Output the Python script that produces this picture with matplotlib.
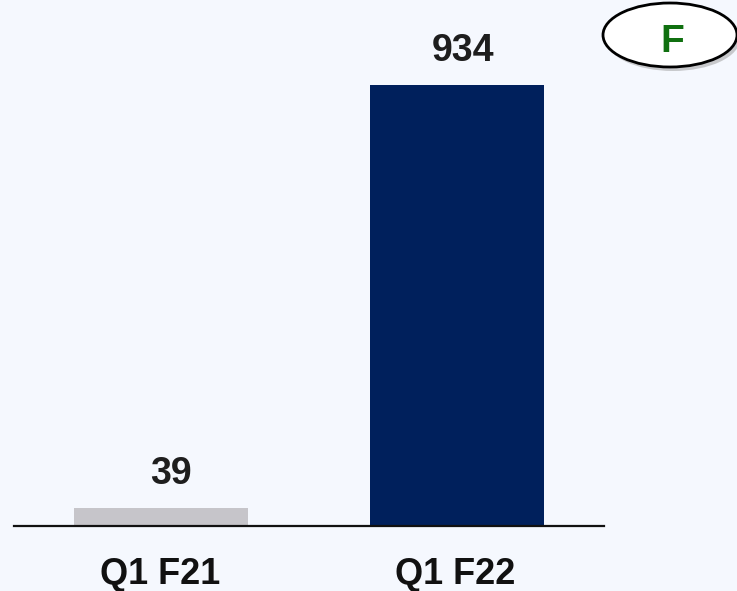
import matplotlib.pyplot as plt
from matplotlib.patches import Ellipse

plt.rcParams['font.family'] = ['Liberation Sans', 'DejaVu Sans']
plt.rcParams['font.weight'] = 'bold'

# data
quarters = ['Q1 F21', 'Q1 F22']
values = [39, 934]
bar_colors = ['#C6C5CA', '#00205C']
badge_text = 'F'

bg = '#F5F8FE'
W, H = 737, 591

fig = plt.figure(figsize=(W / 100, H / 100), dpi=100, facecolor=bg)
ax = fig.add_axes([14 / W, (H - 526) / H, 590 / W, 526 / H])
ax.set_facecolor(bg)
ax.patch.set_alpha(0)

x = list(range(len(quarters)))
bars = ax.bar(x, values, width=0.588, color=bar_colors, zorder=2)
ax.set_xlim(-0.497, 1.497)
ax.set_ylim(0, 1114)

for s in ['top', 'right', 'left']:
    ax.spines[s].set_visible(False)
ax.spines['bottom'].set_linewidth(1.6)
ax.spines['bottom'].set_color('#111111')
ax.spines['bottom'].set_zorder(3)
ax.set_xticks([])
ax.set_yticks([])

# value labels sit a little right of the bar centre in the original
shifts = [7, 4.5]
for xi, v, dx in zip(x, values, shifts):
    ax.annotate(str(v), (xi, v), xytext=(dx, 17), textcoords='offset points',
                ha='center', va='baseline', fontsize=27, fontweight='bold',
                color='#1E1E1E')

for xi, q in zip(x, quarters):
    ax.annotate(q, (xi, 0), xytext=(-1, -42),
                textcoords='offset points', ha='center', va='baseline',
                fontsize=26, fontweight='bold', color='#111111',
                annotation_clip=False)

# badge top right
cx, cy = 670 / W, 1 - 35 / H
shadow = Ellipse((cx + 3 / W, cy - 4 / H), 134 / W, 64 / H,
                 transform=fig.transFigure, facecolor='#9a9a9a',
                 edgecolor='none', alpha=0.5)
badge = Ellipse((cx, cy), 134 / W, 64 / H, transform=fig.transFigure,
                facecolor='white', edgecolor='black', linewidth=2)
fig.patches.append(shadow)
fig.patches.append(badge)
fig.text(672 / W, 1 - 52 / H, badge_text, ha='center', va='baseline',
         fontsize=28, fontweight='bold', color='#107010',
         family=['DejaVu Sans Condensed', 'Liberation Sans Narrow',
                 'Liberation Sans'])

fig.savefig('out.png', dpi=100, facecolor=bg)
